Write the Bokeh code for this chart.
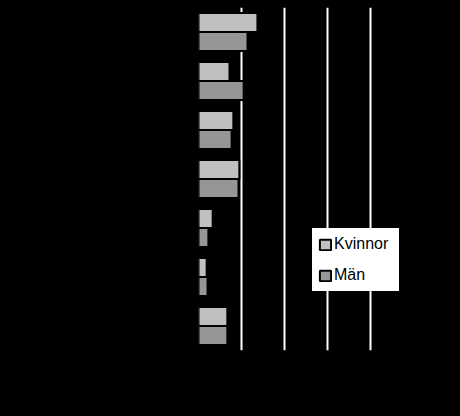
from bokeh.plotting import figure
from bokeh.models import ColumnDataSource, FactorRange, FixedTicker, Legend, LegendItem
from bokeh.transform import dodge
from bokeh.embed import file_html
from bokeh.resources import INLINE

# Data (top group first)
categories = ["Grupp 1", "Grupp 2", "Grupp 3", "Grupp 4", "Grupp 5", "Grupp 6", "Grupp 7"]
kvinnor = [13.7, 7.2, 8.1, 9.5, 3.3, 1.9, 6.7]
man = [11.4, 10.5, 7.7, 9.3, 2.3, 2.1, 6.7]
x_ticks = [10, 20, 30, 40]

source = ColumnDataSource(data=dict(cat=categories, kvinnor=kvinnor, man=man))

p = figure(
    width=452, height=400,
    y_range=FactorRange(factors=list(reversed(categories))),
    x_range=(0, 50),
    output_backend="svg", toolbar_location=None,
    min_border_left=198, min_border_right=39,
    min_border_top=7, min_border_bottom=50,
    background_fill_color="black", border_fill_color="black",
    outline_line_color=None,
)

rk = p.hbar(y=dodge("cat", 0.195, range=p.y_range), right="kvinnor", left=0, height=0.39,
            source=source, fill_color="#C0C0C0", line_color="black", line_width=2)
rm = p.hbar(y=dodge("cat", -0.195, range=p.y_range), right="man", left=0, height=0.39,
            source=source, fill_color="#969696", line_color="black", line_width=2)

p.xaxis.visible = False
p.yaxis.visible = False
p.xaxis.ticker = FixedTicker(ticks=x_ticks)
p.xgrid.ticker = FixedTicker(ticks=x_ticks)
p.xgrid.grid_line_color = "white"
p.xgrid.grid_line_width = 2
p.ygrid.grid_line_color = None

legend = Legend(
    items=[LegendItem(label="Kvinnor", renderers=[rk]), LegendItem(label="Män", renderers=[rm])],
    location=(114, 59),
    background_fill_color="white", background_fill_alpha=1.0,
    border_line_color="white", border_line_width=1,
    padding=5, margin=0, spacing=11,
    glyph_width=14, glyph_height=13,
    label_height=20, label_width=59, label_standoff=2,
    label_text_font="Liberation Sans", label_text_font_size="16px",
    label_text_color="black",
)
p.add_layout(legend, "center")

html = file_html(p, INLINE)
html = html.replace("<head>", "<head><style>html, body { background: #000000; }</style>", 1)
open("out.html", "w").write(html)
